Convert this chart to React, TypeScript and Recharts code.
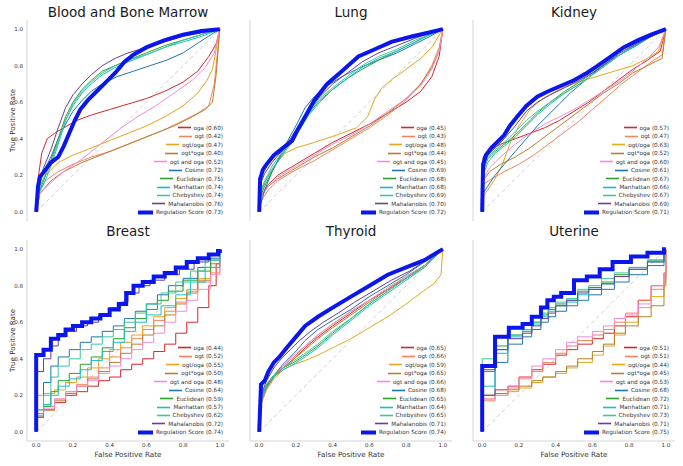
import React from 'react';
import { LineChart, Line, XAxis, YAxis } from 'recharts';

type Pt = [number, number];

// series names + colours, same order in every panel
const SERIES = ['oga', 'ogt', 'ogt/oga', 'ogt*oga', 'ogt and oga', 'Cosine', 'Euclidean', 'Manhattan', 'Chebyshev', 'Mahalanobis', 'Regulation Score'];
const COLORS = ['#d62728', '#f4845f', '#e6a61e', '#b5802e', '#f28bd8', '#1f77b4', '#2ca02c', '#17becf', '#3cc79f', '#6a3d9a', '#0b16ee'];
const TICKS = [0, 0.2, 0.4, 0.6, 0.8, 1.0];
const DIAG: Pt[] = [[0, 0], [1, 1]];

// ---- Blood and Bone Marrow ----
const bloodAuc = [0.60, 0.42, 0.47, 0.40, 0.52, 0.72, 0.75, 0.74, 0.74, 0.76, 0.73];
const bloodCurves: Pt[][] = [
  [[0,0],[0.01,0.18],[0.03,0.32],[0.06,0.4],[0.1,0.43],[0.15,0.46],[0.22,0.5],[0.3,0.53],[0.4,0.56],[0.5,0.59],[0.6,0.62],[0.7,0.66],[0.8,0.71],[0.88,0.77],[0.94,0.85],[0.98,0.92],[1,1]],
  [[0,0],[0.01,0.1],[0.05,0.17],[0.12,0.22],[0.2,0.26],[0.3,0.3],[0.4,0.33],[0.5,0.37],[0.6,0.41],[0.7,0.45],[0.8,0.5],[0.88,0.54],[0.94,0.58],[0.97,0.7],[1,1]],
  [[0,0],[0.01,0.12],[0.05,0.2],[0.12,0.27],[0.2,0.31],[0.3,0.35],[0.4,0.39],[0.5,0.43],[0.6,0.47],[0.7,0.52],[0.8,0.58],[0.88,0.65],[0.93,0.72],[0.96,0.78],[1,1]],
  [[0,0],[0.02,0.1],[0.08,0.17],[0.15,0.22],[0.25,0.27],[0.35,0.31],[0.45,0.35],[0.55,0.39],[0.65,0.43],[0.75,0.47],[0.85,0.52],[0.92,0.56],[0.96,0.6],[0.98,0.75],[1,1]],
  [[0,0],[0.02,0.1],[0.08,0.16],[0.15,0.22],[0.25,0.29],[0.35,0.37],[0.45,0.45],[0.55,0.52],[0.65,0.58],[0.75,0.65],[0.85,0.72],[0.92,0.79],[0.97,0.87],[1,1]],
  [[0,0],[0.01,0.12],[0.04,0.22],[0.08,0.3],[0.12,0.4],[0.16,0.48],[0.2,0.55],[0.25,0.61],[0.3,0.66],[0.36,0.7],[0.44,0.74],[0.53,0.77],[0.62,0.8],[0.71,0.83],[0.8,0.87],[0.89,0.93],[1,1]],
  [[0,0],[0.01,0.1],[0.04,0.17],[0.08,0.28],[0.12,0.4],[0.16,0.52],[0.2,0.6],[0.25,0.67],[0.3,0.72],[0.36,0.77],[0.43,0.8],[0.5,0.83],[0.6,0.87],[0.7,0.91],[0.8,0.94],[0.9,0.97],[1,1]],
  [[0,0],[0.01,0.09],[0.04,0.15],[0.08,0.25],[0.12,0.37],[0.16,0.5],[0.2,0.58],[0.25,0.65],[0.3,0.7],[0.36,0.75],[0.43,0.79],[0.5,0.82],[0.6,0.86],[0.7,0.9],[0.8,0.93],[0.9,0.96],[1,1]],
  [[0,0],[0.01,0.11],[0.04,0.18],[0.08,0.27],[0.12,0.38],[0.16,0.5],[0.2,0.59],[0.25,0.66],[0.3,0.71],[0.36,0.76],[0.43,0.8],[0.5,0.83],[0.6,0.86],[0.7,0.9],[0.8,0.94],[0.9,0.97],[1,1]],
  [[0,0],[0.01,0.14],[0.04,0.24],[0.08,0.34],[0.12,0.46],[0.16,0.57],[0.2,0.64],[0.25,0.7],[0.3,0.75],[0.36,0.8],[0.43,0.84],[0.5,0.87],[0.6,0.9],[0.7,0.93],[0.8,0.96],[0.9,0.98],[1,1]],
  [[0,0],[0.01,0.14],[0.02,0.19],[0.05,0.23],[0.08,0.27],[0.12,0.3],[0.15,0.36],[0.18,0.43],[0.21,0.5],[0.24,0.56],[0.28,0.61],[0.33,0.66],[0.38,0.71],[0.43,0.76],[0.48,0.82],[0.53,0.86],[0.6,0.9],[0.7,0.94],[0.8,0.97],[0.9,0.99],[1,1]],
];

// ---- Lung ----
const lungAuc = [0.45, 0.43, 0.48, 0.44, 0.45, 0.69, 0.68, 0.68, 0.69, 0.70, 0.72];
const lungCurves: Pt[][] = [
  [[0,0],[0.01,0.08],[0.05,0.15],[0.1,0.2],[0.2,0.26],[0.3,0.32],[0.4,0.38],[0.5,0.43],[0.6,0.48],[0.7,0.54],[0.8,0.6],[0.88,0.66],[0.94,0.74],[0.98,0.85],[1,1]],
  [[0,0],[0.01,0.06],[0.05,0.12],[0.1,0.17],[0.2,0.23],[0.3,0.28],[0.4,0.34],[0.5,0.4],[0.6,0.46],[0.7,0.53],[0.8,0.61],[0.88,0.7],[0.94,0.8],[0.98,0.9],[1,1]],
  [[0,0],[0.01,0.1],[0.04,0.18],[0.08,0.25],[0.14,0.32],[0.2,0.35],[0.3,0.38],[0.42,0.42],[0.53,0.46],[0.59,0.52],[0.63,0.62],[0.67,0.68],[0.73,0.73],[0.8,0.78],[0.88,0.84],[0.94,0.9],[1,1]],
  [[0,0],[0.01,0.09],[0.05,0.14],[0.1,0.18],[0.2,0.24],[0.3,0.3],[0.4,0.35],[0.5,0.41],[0.6,0.47],[0.7,0.54],[0.8,0.62],[0.88,0.7],[0.94,0.79],[0.98,0.88],[1,1]],
  [[0,0],[0.01,0.08],[0.05,0.14],[0.1,0.19],[0.2,0.25],[0.3,0.31],[0.4,0.37],[0.5,0.42],[0.6,0.48],[0.7,0.55],[0.8,0.62],[0.88,0.69],[0.94,0.78],[0.98,0.88],[1,1]],
  [[0,0],[0.005,0.03],[0.03,0.12],[0.07,0.22],[0.11,0.3],[0.15,0.38],[0.2,0.47],[0.25,0.57],[0.3,0.63],[0.37,0.69],[0.45,0.74],[0.55,0.79],[0.65,0.83],[0.75,0.87],[0.85,0.92],[0.93,0.96],[1,1]],
  [[0,0],[0.005,0.08],[0.03,0.14],[0.07,0.22],[0.12,0.31],[0.17,0.38],[0.22,0.46],[0.27,0.54],[0.33,0.61],[0.4,0.67],[0.48,0.73],[0.56,0.78],[0.65,0.83],[0.75,0.88],[0.85,0.93],[0.93,0.97],[1,1]],
  [[0,0],[0.005,0.1],[0.03,0.16],[0.07,0.23],[0.12,0.3],[0.17,0.37],[0.22,0.45],[0.27,0.53],[0.33,0.6],[0.4,0.67],[0.48,0.73],[0.56,0.79],[0.65,0.84],[0.75,0.88],[0.85,0.93],[0.93,0.97],[1,1]],
  [[0,0],[0.005,0.11],[0.03,0.17],[0.07,0.25],[0.12,0.32],[0.17,0.4],[0.22,0.48],[0.27,0.55],[0.33,0.62],[0.4,0.68],[0.48,0.74],[0.56,0.8],[0.65,0.85],[0.75,0.89],[0.85,0.94],[0.93,0.97],[1,1]],
  [[0,0],[0.005,0.15],[0.03,0.21],[0.07,0.27],[0.12,0.33],[0.17,0.4],[0.22,0.48],[0.27,0.56],[0.33,0.63],[0.4,0.7],[0.48,0.76],[0.56,0.82],[0.65,0.87],[0.75,0.91],[0.85,0.95],[0.93,0.98],[1,1]],
  [[0,0],[0.005,0.18],[0.02,0.23],[0.04,0.26],[0.08,0.31],[0.13,0.35],[0.18,0.39],[0.21,0.45],[0.25,0.52],[0.3,0.61],[0.37,0.7],[0.45,0.77],[0.54,0.85],[0.63,0.89],[0.72,0.93],[0.83,0.96],[0.92,0.98],[1,1]],
];

// ---- Kidney ----
const kidneyAuc = [0.57, 0.47, 0.63, 0.52, 0.60, 0.61, 0.67, 0.66, 0.67, 0.69, 0.71];
const kidneyCurves: Pt[][] = [
  [[0,0],[0.005,0.3],[0.04,0.34],[0.1,0.37],[0.18,0.4],[0.26,0.43],[0.34,0.46],[0.42,0.5],[0.5,0.55],[0.58,0.6],[0.66,0.66],[0.74,0.72],[0.82,0.78],[0.9,0.83],[0.97,0.88],[1,1]],
  [[0,0],[0.005,0.15],[0.05,0.18],[0.12,0.22],[0.2,0.26],[0.28,0.31],[0.36,0.37],[0.44,0.43],[0.52,0.49],[0.6,0.56],[0.68,0.63],[0.76,0.7],[0.84,0.76],[0.92,0.82],[0.98,0.86],[1,1]],
  [[0,0],[0.005,0.08],[0.03,0.12],[0.07,0.18],[0.11,0.26],[0.15,0.37],[0.2,0.47],[0.26,0.56],[0.33,0.62],[0.42,0.67],[0.52,0.71],[0.62,0.74],[0.72,0.77],[0.82,0.8],[0.9,0.84],[0.96,0.88],[1,1]],
  [[0,0],[0.005,0.17],[0.04,0.22],[0.1,0.26],[0.18,0.3],[0.26,0.35],[0.34,0.41],[0.42,0.47],[0.5,0.53],[0.58,0.59],[0.66,0.65],[0.74,0.7],[0.82,0.76],[0.9,0.8],[0.98,0.84],[1,1]],
  [[0,0],[0.005,0.18],[0.04,0.24],[0.1,0.3],[0.18,0.37],[0.26,0.43],[0.34,0.48],[0.42,0.52],[0.5,0.56],[0.58,0.61],[0.66,0.66],[0.74,0.71],[0.82,0.77],[0.9,0.84],[0.96,0.9],[1,1]],
  [[0,0],[0.005,0.1],[0.03,0.14],[0.07,0.2],[0.12,0.26],[0.18,0.33],[0.24,0.4],[0.3,0.47],[0.36,0.53],[0.42,0.59],[0.48,0.65],[0.55,0.71],[0.62,0.77],[0.7,0.83],[0.8,0.89],[0.9,0.95],[1,1]],
  [[0,0],[0.005,0.22],[0.03,0.29],[0.07,0.33],[0.12,0.37],[0.18,0.42],[0.24,0.48],[0.3,0.54],[0.37,0.6],[0.45,0.66],[0.53,0.71],[0.6,0.76],[0.67,0.81],[0.75,0.86],[0.84,0.91],[0.92,0.96],[1,1]],
  [[0,0],[0.005,0.2],[0.03,0.27],[0.07,0.32],[0.12,0.36],[0.18,0.41],[0.24,0.47],[0.3,0.53],[0.37,0.59],[0.45,0.65],[0.53,0.7],[0.6,0.75],[0.67,0.8],[0.75,0.86],[0.84,0.91],[0.92,0.96],[1,1]],
  [[0,0],[0.005,0.24],[0.03,0.3],[0.07,0.34],[0.12,0.38],[0.18,0.44],[0.24,0.5],[0.3,0.55],[0.37,0.6],[0.45,0.65],[0.53,0.7],[0.6,0.75],[0.67,0.8],[0.75,0.86],[0.84,0.92],[0.92,0.96],[1,1]],
  [[0,0],[0.005,0.24],[0.03,0.31],[0.07,0.35],[0.12,0.4],[0.18,0.47],[0.24,0.55],[0.3,0.6],[0.37,0.64],[0.45,0.68],[0.53,0.72],[0.6,0.76],[0.67,0.81],[0.75,0.87],[0.84,0.92],[0.92,0.96],[1,1]],
  [[0,0],[0.005,0.26],[0.02,0.31],[0.05,0.35],[0.08,0.38],[0.12,0.42],[0.15,0.47],[0.19,0.52],[0.24,0.58],[0.3,0.63],[0.36,0.66],[0.43,0.69],[0.5,0.72],[0.57,0.76],[0.63,0.8],[0.7,0.85],[0.77,0.9],[0.85,0.94],[0.92,0.97],[1,1]],
];

// ---- Breast (staircase) ----
const breastAuc = [0.44, 0.52, 0.55, 0.50, 0.48, 0.64, 0.59, 0.57, 0.62, 0.72, 0.74];
const breastCurves: Pt[][] = [
  [[0,0],[0,0.08],[0.04,0.12],[0.1,0.16],[0.16,0.2],[0.22,0.22],[0.28,0.25],[0.34,0.28],[0.4,0.3],[0.46,0.34],[0.52,0.37],[0.58,0.4],[0.64,0.44],[0.7,0.48],[0.76,0.54],[0.82,0.6],[0.88,0.68],[0.94,0.8],[0.98,0.92],[1,1]],
  [[0,0],[0,0.09],[0.04,0.14],[0.1,0.18],[0.16,0.22],[0.22,0.26],[0.28,0.3],[0.34,0.35],[0.4,0.41],[0.46,0.46],[0.52,0.51],[0.58,0.56],[0.64,0.61],[0.7,0.66],[0.76,0.71],[0.82,0.77],[0.88,0.82],[0.95,0.87],[1,1]],
  [[0,0],[0,0.2],[0.04,0.21],[0.1,0.23],[0.16,0.27],[0.22,0.3],[0.28,0.35],[0.34,0.4],[0.4,0.45],[0.46,0.49],[0.52,0.53],[0.58,0.58],[0.64,0.63],[0.7,0.68],[0.76,0.73],[0.82,0.78],[0.88,0.84],[0.95,0.9],[1,1]],
  [[0,0],[0,0.08],[0.04,0.12],[0.1,0.17],[0.16,0.21],[0.22,0.25],[0.28,0.29],[0.34,0.33],[0.4,0.38],[0.46,0.43],[0.52,0.48],[0.58,0.53],[0.64,0.58],[0.7,0.64],[0.76,0.7],[0.82,0.76],[0.88,0.83],[0.95,0.92],[1,1]],
  [[0,0],[0,0.09],[0.04,0.13],[0.1,0.18],[0.16,0.22],[0.22,0.25],[0.28,0.28],[0.34,0.32],[0.4,0.36],[0.46,0.4],[0.52,0.45],[0.58,0.49],[0.64,0.54],[0.7,0.6],[0.76,0.66],[0.82,0.72],[0.88,0.78],[0.95,0.86],[1,1]],
  [[0,0],[0,0.12],[0.04,0.27],[0.08,0.36],[0.12,0.41],[0.18,0.45],[0.24,0.49],[0.3,0.52],[0.36,0.55],[0.42,0.58],[0.48,0.62],[0.54,0.66],[0.6,0.7],[0.66,0.75],[0.72,0.8],[0.8,0.84],[0.88,0.9],[0.95,0.95],[1,1]],
  [[0,0],[0,0.08],[0.04,0.14],[0.08,0.22],[0.12,0.28],[0.18,0.32],[0.24,0.37],[0.3,0.41],[0.36,0.46],[0.42,0.51],[0.48,0.57],[0.54,0.62],[0.6,0.67],[0.66,0.72],[0.72,0.77],[0.8,0.83],[0.88,0.88],[0.95,0.94],[1,1]],
  [[0,0],[0,0.1],[0.04,0.15],[0.08,0.2],[0.12,0.25],[0.18,0.29],[0.24,0.34],[0.3,0.39],[0.36,0.44],[0.42,0.49],[0.48,0.55],[0.54,0.6],[0.6,0.64],[0.68,0.69],[0.76,0.75],[0.84,0.82],[0.92,0.9],[1,1]],
  [[0,0],[0,0.1],[0.04,0.2],[0.08,0.3],[0.12,0.36],[0.18,0.4],[0.24,0.45],[0.3,0.48],[0.36,0.52],[0.42,0.56],[0.48,0.6],[0.54,0.65],[0.6,0.7],[0.68,0.76],[0.76,0.82],[0.84,0.88],[0.92,0.94],[1,1]],
  [[0,0],[0,0.33],[0.04,0.4],[0.08,0.47],[0.12,0.52],[0.16,0.55],[0.22,0.58],[0.28,0.6],[0.34,0.64],[0.4,0.68],[0.46,0.71],[0.5,0.76],[0.56,0.8],[0.62,0.83],[0.7,0.86],[0.78,0.89],[0.86,0.93],[0.94,0.97],[1,1]],
  [[0,0],[0,0.42],[0.04,0.45],[0.08,0.51],[0.12,0.53],[0.16,0.56],[0.2,0.58],[0.25,0.6],[0.3,0.62],[0.35,0.64],[0.4,0.67],[0.45,0.7],[0.49,0.76],[0.53,0.8],[0.58,0.82],[0.64,0.85],[0.7,0.87],[0.76,0.9],[0.82,0.93],[0.88,0.95],[0.94,0.97],[0.99,0.99],[1,1]],
];

// ---- Thyroid ----
const thyroidAuc = [0.65, 0.66, 0.59, 0.65, 0.66, 0.68, 0.65, 0.64, 0.65, 0.71, 0.74];
const thyroidCurves: Pt[][] = [
  [[0,0],[0.01,0.17],[0.04,0.24],[0.08,0.3],[0.13,0.35],[0.19,0.4],[0.25,0.46],[0.32,0.52],[0.4,0.58],[0.5,0.65],[0.6,0.72],[0.7,0.78],[0.8,0.84],[0.9,0.91],[1,1]],
  [[0,0],[0.01,0.18],[0.04,0.25],[0.08,0.31],[0.13,0.36],[0.19,0.41],[0.25,0.47],[0.32,0.53],[0.4,0.59],[0.5,0.66],[0.6,0.72],[0.7,0.78],[0.8,0.84],[0.9,0.9],[1,1]],
  [[0,0],[0.01,0.15],[0.04,0.23],[0.08,0.29],[0.13,0.34],[0.19,0.37],[0.25,0.39],[0.32,0.42],[0.4,0.46],[0.5,0.51],[0.6,0.57],[0.7,0.63],[0.8,0.7],[0.88,0.76],[0.95,0.81],[0.99,0.86],[1,1]],
  [[0,0],[0.01,0.16],[0.04,0.24],[0.08,0.3],[0.13,0.35],[0.19,0.4],[0.25,0.45],[0.32,0.51],[0.4,0.57],[0.5,0.64],[0.6,0.71],[0.7,0.78],[0.8,0.85],[0.9,0.91],[1,1]],
  [[0,0],[0.01,0.17],[0.04,0.25],[0.08,0.31],[0.13,0.36],[0.19,0.42],[0.25,0.47],[0.32,0.53],[0.4,0.59],[0.5,0.66],[0.6,0.72],[0.7,0.79],[0.8,0.85],[0.9,0.91],[1,1]],
  [[0,0],[0.01,0.18],[0.04,0.25],[0.08,0.31],[0.13,0.37],[0.19,0.43],[0.25,0.5],[0.32,0.56],[0.4,0.61],[0.5,0.67],[0.6,0.74],[0.7,0.8],[0.8,0.86],[0.9,0.93],[1,1]],
  [[0,0],[0.01,0.19],[0.04,0.26],[0.08,0.31],[0.13,0.35],[0.19,0.38],[0.25,0.42],[0.32,0.47],[0.4,0.54],[0.5,0.62],[0.6,0.7],[0.7,0.77],[0.8,0.84],[0.9,0.91],[1,1]],
  [[0,0],[0.01,0.18],[0.04,0.25],[0.08,0.3],[0.13,0.34],[0.19,0.37],[0.25,0.41],[0.32,0.46],[0.4,0.53],[0.5,0.61],[0.6,0.69],[0.7,0.76],[0.8,0.83],[0.9,0.9],[1,1]],
  [[0,0],[0.01,0.2],[0.04,0.26],[0.08,0.31],[0.13,0.35],[0.19,0.39],[0.25,0.43],[0.32,0.48],[0.4,0.55],[0.5,0.62],[0.6,0.7],[0.7,0.77],[0.8,0.84],[0.9,0.91],[1,1]],
  [[0,0],[0.01,0.2],[0.04,0.28],[0.08,0.35],[0.12,0.4],[0.17,0.45],[0.22,0.5],[0.28,0.55],[0.35,0.6],[0.43,0.65],[0.52,0.71],[0.62,0.77],[0.72,0.83],[0.82,0.88],[0.91,0.94],[1,1]],
  [[0,0],[0.01,0.26],[0.03,0.28],[0.05,0.33],[0.08,0.38],[0.11,0.41],[0.15,0.46],[0.2,0.52],[0.25,0.58],[0.32,0.63],[0.4,0.68],[0.5,0.74],[0.6,0.8],[0.7,0.86],[0.8,0.9],[0.9,0.94],[1,1]],
];

// ---- Uterine (staircase) ----
const uterineAuc = [0.51, 0.51, 0.44, 0.45, 0.53, 0.68, 0.72, 0.71, 0.73, 0.71, 0.75];
const uterineCurves: Pt[][] = [
  [[0,0],[0,0.2],[0.07,0.23],[0.14,0.25],[0.2,0.3],[0.27,0.34],[0.33,0.37],[0.4,0.42],[0.46,0.45],[0.52,0.48],[0.6,0.51],[0.66,0.54],[0.72,0.58],[0.78,0.63],[0.85,0.72],[0.92,0.8],[0.99,0.87],[1,1]],
  [[0,0],[0,0.17],[0.07,0.21],[0.14,0.24],[0.2,0.29],[0.27,0.33],[0.33,0.38],[0.4,0.43],[0.46,0.47],[0.52,0.5],[0.6,0.53],[0.66,0.56],[0.72,0.6],[0.78,0.65],[0.85,0.72],[0.92,0.78],[0.99,0.85],[1,1]],
  [[0,0],[0,0.18],[0.07,0.2],[0.14,0.22],[0.2,0.24],[0.27,0.27],[0.33,0.3],[0.4,0.32],[0.46,0.35],[0.52,0.38],[0.6,0.42],[0.66,0.47],[0.72,0.53],[0.78,0.6],[0.85,0.68],[0.92,0.74],[0.99,0.82],[1,1]],
  [[0,0],[0,0.2],[0.07,0.21],[0.14,0.23],[0.2,0.25],[0.27,0.28],[0.33,0.3],[0.4,0.33],[0.46,0.36],[0.52,0.4],[0.6,0.44],[0.66,0.48],[0.72,0.54],[0.78,0.58],[0.85,0.63],[0.92,0.69],[0.99,0.8],[1,1]],
  [[0,0],[0,0.18],[0.07,0.2],[0.14,0.25],[0.2,0.3],[0.27,0.36],[0.33,0.4],[0.4,0.45],[0.46,0.49],[0.52,0.52],[0.6,0.55],[0.66,0.58],[0.72,0.62],[0.78,0.64],[0.85,0.7],[0.92,0.8],[0.99,0.87],[1,1]],
  [[0,0],[0,0.2],[0.07,0.38],[0.14,0.48],[0.22,0.52],[0.27,0.56],[0.32,0.6],[0.36,0.63],[0.4,0.66],[0.46,0.69],[0.52,0.72],[0.58,0.75],[0.65,0.78],[0.72,0.82],[0.8,0.86],[0.9,0.91],[0.99,1],[1,1]],
  [[0,0],[0,0.33],[0.07,0.47],[0.14,0.53],[0.22,0.55],[0.27,0.6],[0.32,0.64],[0.36,0.67],[0.4,0.7],[0.46,0.72],[0.52,0.77],[0.58,0.79],[0.65,0.82],[0.72,0.86],[0.8,0.9],[0.9,0.94],[0.99,1],[1,1]],
  [[0,0],[0,0.25],[0.07,0.43],[0.14,0.52],[0.22,0.55],[0.27,0.59],[0.32,0.63],[0.36,0.66],[0.4,0.69],[0.46,0.71],[0.52,0.75],[0.58,0.78],[0.65,0.81],[0.72,0.85],[0.8,0.89],[0.9,0.93],[0.99,1],[1,1]],
  [[0,0],[0,0.4],[0.07,0.45],[0.14,0.53],[0.22,0.56],[0.27,0.6],[0.32,0.65],[0.36,0.68],[0.4,0.71],[0.46,0.73],[0.52,0.78],[0.58,0.8],[0.65,0.84],[0.72,0.87],[0.8,0.9],[0.9,0.94],[0.99,1],[1,1]],
  [[0,0],[0,0.34],[0.07,0.45],[0.14,0.51],[0.22,0.54],[0.27,0.58],[0.32,0.62],[0.36,0.65],[0.4,0.69],[0.46,0.72],[0.52,0.76],[0.58,0.78],[0.65,0.81],[0.72,0.85],[0.8,0.89],[0.9,0.93],[0.99,1],[1,1]],
  [[0,0],[0,0.36],[0.07,0.52],[0.145,0.57],[0.22,0.59],[0.27,0.63],[0.32,0.68],[0.355,0.72],[0.39,0.74],[0.43,0.76],[0.5,0.83],[0.57,0.85],[0.64,0.89],[0.71,0.93],[0.81,0.96],[0.9,0.98],[0.99,1],[1,1]],
];

const PANELS = [
  { title: 'Blood and Bone Marrow', auc: bloodAuc, curves: bloodCurves, step: false },
  { title: 'Lung', auc: lungAuc, curves: lungCurves, step: false },
  { title: 'Kidney', auc: kidneyAuc, curves: kidneyCurves, step: false },
  { title: 'Breast', auc: breastAuc, curves: breastCurves, step: true },
  { title: 'Thyroid', auc: thyroidAuc, curves: thyroidCurves, step: false },
  { title: 'Uterine', auc: uterineAuc, curves: uterineCurves, step: true },
];

const PLOT_W = 202;
const PLOT_H = 201;
const COL_LEFT = [27, 250, 473];
const ROW_TOP = [20, 240];
const SPINE = '#d4d4d4';
const ROW_H = 8.45;

const toRows = (pts: Pt[]) => pts.map(([x, y]) => ({ x, y }));

function PanelLegend({ left, top, auc }: { left: number; top: number; auc: number[] }) {
  return (
    <div style={{ position: 'absolute', left, top, width: PLOT_W - 6 }}>
      {SERIES.map((name, i) => {
        const thick = i === SERIES.length - 1;
        return (
          <div key={name} style={{ display: 'flex', justifyContent: 'flex-end', alignItems: 'center', height: ROW_H, fontSize: 5.7, color: '#333', whiteSpace: 'nowrap' }}>
            <svg width={thick ? 15 : 13} height={5} style={{ marginRight: 3 }}>
              <line x1={0} x2={thick ? 15 : 13} y1={2.5} y2={2.5} stroke={COLORS[i]} strokeWidth={thick ? 4 : 1.6} />
            </svg>
            <span>{`${name} (${auc[i].toFixed(2)})`}</span>
          </div>
        );
      })}
    </div>
  );
}

function Panel({ idx }: { idx: number }) {
  const p = PANELS[idx];
  const col = idx % 3;
  const row = Math.floor(idx / 3);
  const isLeft = col === 0;
  const isBottom = row === 1;
  const xAxisH = isBottom ? 18 : 0;
  const plotLeft = COL_LEFT[col];
  const plotTop = ROW_TOP[row];
  const tickStyle = { fontSize: 5.5, fill: '#333' };

  return (
    <>
      <div style={{ position: 'absolute', left: plotLeft - 27, top: plotTop - 20 }}>
        <LineChart width={27 + PLOT_W + 3} height={20 + PLOT_H + xAxisH + 2} margin={{ top: 20, right: 3, bottom: 2, left: 0 }}>
          <XAxis
            type="number"
            dataKey="x"
            domain={[-0.05, 1.05]}
            ticks={TICKS}
            allowDataOverflow
            height={xAxisH}
            tick={isBottom ? tickStyle : false}
            tickLine={false}
            tickSize={1}
            tickMargin={1}
            axisLine={{ stroke: SPINE }}
            tickFormatter={(v: number) => v.toFixed(1)}
            label={isBottom ? { value: 'False Positive Rate', position: 'insideBottom', offset: 2, style: { fontSize: 7.2, fill: '#333' } } : undefined}
          />
          <YAxis
            type="number"
            domain={[-0.05, 1.05]}
            ticks={TICKS}
            allowDataOverflow
            width={27}
            tick={isLeft ? tickStyle : false}
            tickLine={false}
            tickSize={2}
            tickMargin={2}
            axisLine={{ stroke: SPINE }}
            tickFormatter={(v: number) => v.toFixed(1)}
            label={isLeft ? { value: 'True Positive Rate', angle: -90, position: 'center', dx: -1.5, style: { fontSize: 7.1, fill: '#333', textAnchor: 'middle' } } : undefined}
          />
          <Line data={toRows(DIAG)} dataKey="y" stroke="#c4c4c4" strokeWidth={0.8} strokeDasharray="4 3" dot={false} isAnimationActive={false} />
          {p.curves.map((pts, i) => (
            <Line
              key={SERIES[i]}
              data={toRows(pts)}
              dataKey="y"
              name={SERIES[i]}
              type={p.step ? 'stepAfter' : 'linear'}
              stroke={COLORS[i]}
              strokeWidth={i === SERIES.length - 1 ? 4 : 1}
              dot={false}
              isAnimationActive={false}
            />
          ))}
        </LineChart>
      </div>
      <div style={{ position: 'absolute', left: plotLeft, top: plotTop - 15 + (isBottom ? -1 : 0), width: PLOT_W, textAlign: 'center', fontSize: 13.5, lineHeight: '14px', color: '#1a1a1a' }}>
        {p.title}
      </div>
      <PanelLegend left={plotLeft} top={plotTop + 108 - ROW_H / 2} auc={p.auc} />
    </>
  );
}

export default function App() {
  return (
    <div style={{ position: 'absolute', left: 0, top: 0, width: 683, height: 466, background: '#fff', fontFamily: '"DejaVu Sans", sans-serif', overflow: 'hidden' }}>
      {PANELS.map((_, i) => (
        <Panel key={i} idx={i} />
      ))}
    </div>
  );
}
